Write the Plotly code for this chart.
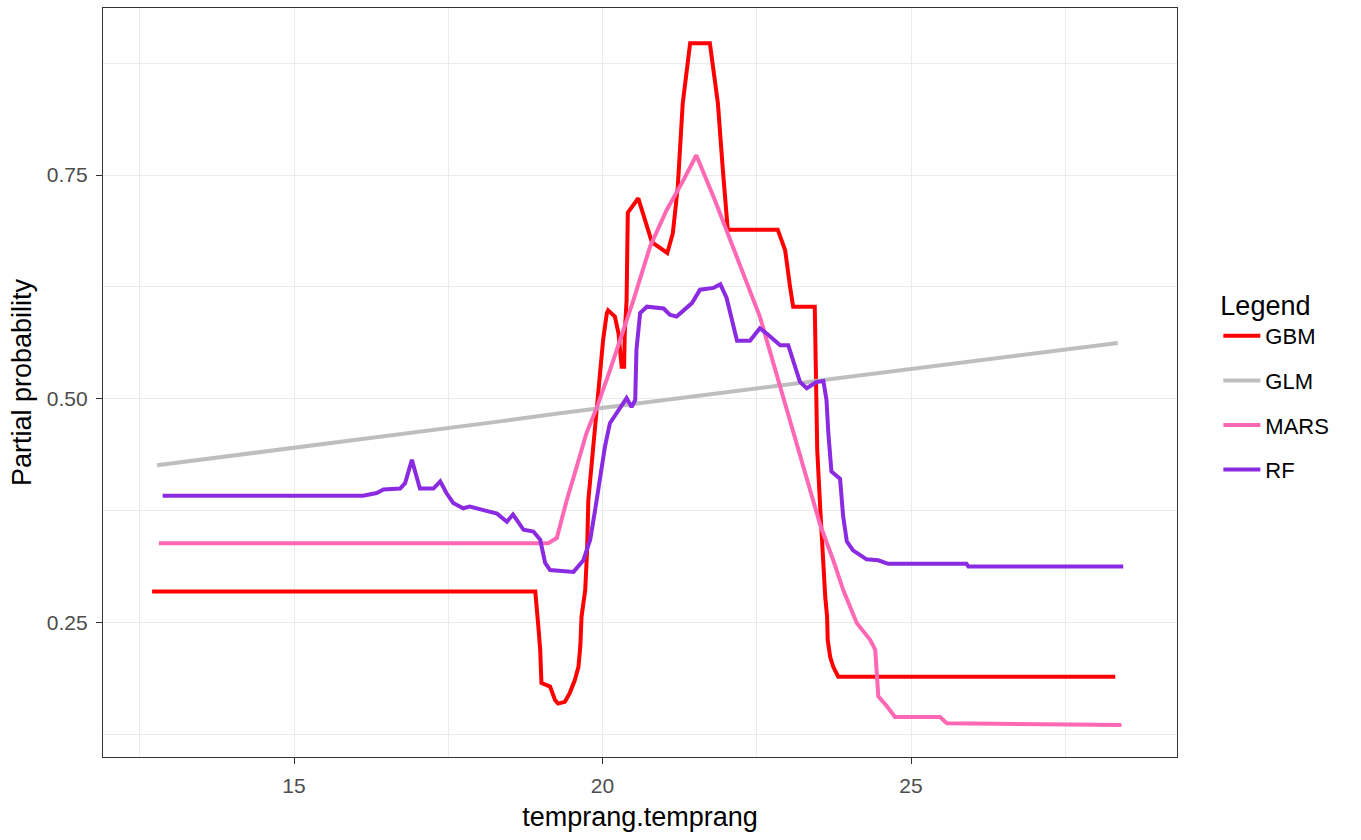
import plotly.graph_objects as go

# ---- data ----
gbm_x = [12.70, 18.91, 18.96, 18.99, 19.01, 19.15, 19.23, 19.28, 19.39, 19.47, 19.55, 19.61,
         19.64, 19.66, 19.72, 19.75, 19.77, 19.82, 19.88, 19.96, 20.01, 20.07, 20.09, 20.20,
         20.26, 20.31, 20.35, 20.36, 20.39, 20.41, 20.58, 20.80, 21.05, 21.14, 21.22, 21.30,
         21.42, 21.74, 21.87, 21.95, 22.03, 22.84, 22.96, 23.04, 23.09, 23.44, 23.46, 23.48,
         23.53, 23.56, 23.57, 23.61, 23.64, 23.65, 23.69, 23.74, 23.82, 28.31]
gbm_y = [0.285, 0.285, 0.246, 0.220, 0.183, 0.179, 0.164, 0.160, 0.162, 0.172, 0.186, 0.201,
         0.224, 0.257, 0.287, 0.331, 0.387, 0.424, 0.480, 0.536, 0.566, 0.596, 0.599, 0.592,
         0.573, 0.536, 0.536, 0.573, 0.610, 0.708, 0.724, 0.675, 0.663, 0.685, 0.737, 0.830,
         0.897, 0.897, 0.830, 0.756, 0.689, 0.689, 0.666, 0.625, 0.603, 0.603, 0.510, 0.443,
         0.376, 0.339, 0.309, 0.279, 0.257, 0.231, 0.212, 0.201, 0.190, 0.190]

glm_x = [12.78, 16.00, 18.34, 19.31, 23.20, 25.63, 28.35]
glm_y = [0.426, 0.454, 0.475, 0.484, 0.518, 0.539, 0.5625]

mars_x = [12.81, 19.12, 19.26, 19.42, 19.58, 19.74, 19.91, 20.12, 20.50, 20.77, 21.04, 21.31,
          21.52, 21.82, 22.55, 22.88, 23.20, 23.53, 23.74, 23.90, 24.12, 24.34, 24.42, 24.47,
          24.61, 24.74, 25.47, 25.58, 28.41]
mars_y = [0.339, 0.339, 0.345, 0.387, 0.424, 0.462, 0.491, 0.532, 0.610, 0.670, 0.711, 0.744,
          0.772, 0.722, 0.592, 0.514, 0.439, 0.359, 0.320, 0.287, 0.250, 0.231, 0.220, 0.168,
          0.157, 0.145, 0.145, 0.138, 0.136]

rf_x = [12.87, 16.12, 16.34, 16.45, 16.72, 16.80, 16.91, 17.04, 17.26, 17.37, 17.47, 17.58,
        17.74, 17.85, 18.07, 18.29, 18.45, 18.55, 18.72, 18.88, 18.99, 19.07, 19.15, 19.53,
        19.69, 19.80, 19.88, 19.96, 20.04, 20.12, 20.23, 20.39, 20.47, 20.53, 20.55, 20.61,
        20.72, 20.99, 21.09, 21.20, 21.45, 21.58, 21.80, 21.91, 22.01, 22.12, 22.18, 22.39,
        22.55, 22.66, 22.88, 23.01, 23.09, 23.20, 23.31, 23.47, 23.58, 23.63, 23.66, 23.71,
        23.85, 23.90, 23.96, 24.06, 24.28, 24.47, 24.63, 25.90, 25.93, 28.44]
rf_y = [0.392, 0.392, 0.395, 0.399, 0.400, 0.406, 0.432, 0.400, 0.400, 0.408, 0.395, 0.384,
        0.378, 0.380, 0.376, 0.372, 0.363, 0.371, 0.354, 0.352, 0.343, 0.317, 0.309, 0.307,
        0.320, 0.343, 0.376, 0.410, 0.447, 0.473, 0.484, 0.501, 0.491, 0.499, 0.555, 0.596,
        0.603, 0.601, 0.594, 0.592, 0.607, 0.622, 0.624, 0.628, 0.613, 0.581, 0.565, 0.565,
        0.579, 0.573, 0.560, 0.560, 0.544, 0.519, 0.512, 0.519, 0.520, 0.499, 0.462, 0.419,
        0.411, 0.369, 0.341, 0.331, 0.321, 0.320, 0.316, 0.316, 0.313, 0.313]

series = [
    ("GBM", gbm_x, gbm_y, "#FF0000"),
    ("GLM", glm_x, glm_y, "#BEBEBE"),
    ("MARS", mars_x, mars_y, "#FF69B4"),
    ("RF", rf_x, rf_y, "#8A2BE2"),
]

FONT = "Liberation Sans, Arial, sans-serif"

fig = go.Figure()
for name, xs, ys, col in series:
    fig.add_trace(go.Scatter(x=xs, y=ys, mode="lines", name=name, legendgroup=name,
                             line=dict(color=col, width=4)))

axis_common = dict(
    showline=True, mirror=True, linecolor="#333333", linewidth=1.3,
    showgrid=True, gridcolor="#EBEBEB", gridwidth=1.3,
    zeroline=False, ticks="outside", ticklen=6, tickwidth=1.2, tickcolor="#333333",
    tickfont=dict(family=FONT, size=21, color="#4D4D4D"),
)

fig.update_layout(
    width=1361, height=840,
    margin=dict(l=103, r=184, t=8, b=83),
    paper_bgcolor="white", plot_bgcolor="white",
    font=dict(family=FONT, color="black"),
    xaxis=dict(range=[11.904, 29.311], tick0=0, dtick=5,
               minor=dict(showgrid=True, dtick=2.5, tick0=0, gridcolor="#EBEBEB", gridwidth=0.8),
               title=dict(text="temprang.temprang", font=dict(family=FONT, size=27, color="black"),
                          standoff=10),
               ticklabelstandoff=4,
               **axis_common),
    yaxis=dict(range=[0.1004, 0.9364], tick0=0, dtick=0.25, tickformat=".2f",
               minor=dict(showgrid=True, dtick=0.125, tick0=0, gridcolor="#EBEBEB", gridwidth=0.8),
               title=dict(text="Partial probability", font=dict(family=FONT, size=27, color="black"),
                          standoff=7),
               ticklabelstandoff=4,
               **axis_common),
    legend=dict(
        title=dict(text="Legend", font=dict(family=FONT, size=27, color="black")),
        font=dict(family=FONT, size=22, color="black"),
        x=1.0385, xanchor="left", y=0.637, yanchor="top",
        itemwidth=37, tracegroupgap=13, bgcolor="rgba(0,0,0,0)",
    ),
    showlegend=True,
)

fig.write_html("out.html")
